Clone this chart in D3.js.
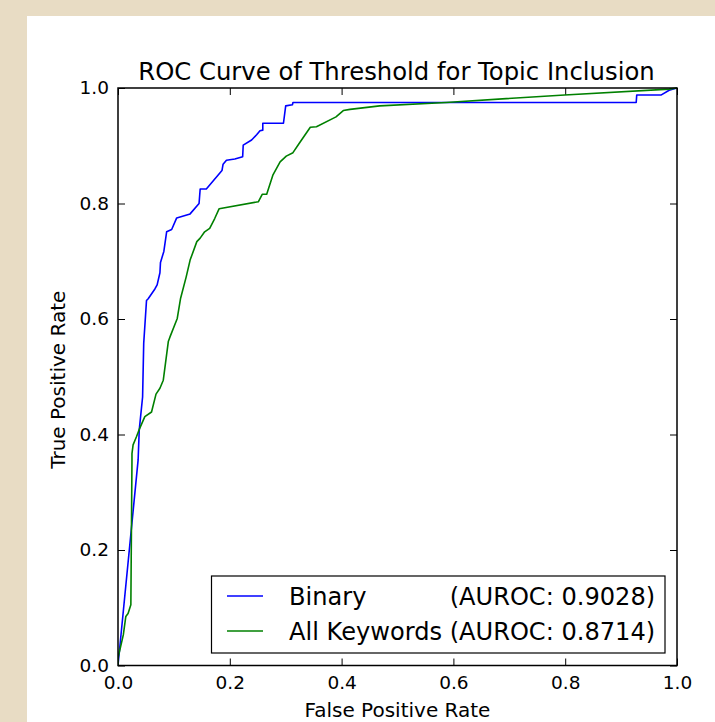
<!DOCTYPE html>
<html>
<head>
<meta charset="utf-8">
<script src="https://cdn.jsdelivr.net/npm/d3@7"></script>
<style>
  html, body { margin: 0; padding: 0; background: #e8dcc4; }
  svg { display: block; }
  text { font-family: "DejaVu Sans", sans-serif; fill: #000; }
</style>
</head>
<body>
<script>
// ---- data ----
const seriesNames = ["Binary", "All Keywords"];
const seriesAuroc = ["0.9028", "0.8714"];
const seriesColors = ["#0000ff", "#008000"];

const binaryFPR = [0, 0.036, 0.038, 0.044, 0.046, 0.051, 0.054, 0.066, 0.070, 0.075, 0.076, 0.082, 0.087, 0.096, 0.105, 0.129, 0.145, 0.147, 0.158, 0.186, 0.188, 0.194, 0.209, 0.223, 0.224, 0.239, 0.248, 0.254, 0.259, 0.259, 0.296, 0.300, 0.312, 0.313, 0.927, 0.928, 0.972, 0.986, 1];
const binaryTPR = [0, 0.356, 0.408, 0.465, 0.558, 0.632, 0.635, 0.652, 0.659, 0.680, 0.698, 0.717, 0.751, 0.755, 0.775, 0.782, 0.800, 0.825, 0.825, 0.857, 0.868, 0.875, 0.877, 0.881, 0.901, 0.910, 0.919, 0.926, 0.927, 0.939, 0.939, 0.969, 0.971, 0.975, 0.975, 0.988, 0.988, 0.996, 1];

const keywordsFPR = [0, 0.0005, 0.0095, 0.014, 0.018, 0.023, 0.025, 0.025, 0.027, 0.033, 0.039, 0.048, 0.060, 0.068, 0.075, 0.081, 0.090, 0.093, 0.106, 0.112, 0.122, 0.129, 0.141, 0.147, 0.155, 0.164, 0.173, 0.181, 0.251, 0.258, 0.266, 0.277, 0.290, 0.301, 0.313, 0.324, 0.344, 0.355, 0.390, 0.403, 0.415, 0.468, 0.587, 0.799, 0.986, 1];
const keywordsTPR = [0, 0.015, 0.053, 0.085, 0.090, 0.105, 0.356, 0.367, 0.382, 0.396, 0.411, 0.431, 0.439, 0.470, 0.480, 0.494, 0.561, 0.569, 0.601, 0.636, 0.673, 0.702, 0.734, 0.740, 0.751, 0.757, 0.774, 0.791, 0.803, 0.816, 0.816, 0.849, 0.872, 0.882, 0.888, 0.904, 0.932, 0.933, 0.950, 0.961, 0.963, 0.969, 0.975, 0.988, 0.998, 1];

const xTicks = [0, 0.2, 0.4, 0.6, 0.8, 1.0];
const yTicks = [0, 0.2, 0.4, 0.6, 0.8, 1.0];
const titleText = "ROC Curve of Threshold for Topic Inclusion";
const xLabel = "False Positive Rate";
const yLabel = "True Positive Rate";

// ---- layout ----
const W = 715, H = 722;
const L = 118, R = 677, T = 88, B = 665.5;

const svg = d3.select("body").append("svg").attr("width", W).attr("height", H);
svg.append("rect").attr("x", 0).attr("y", 0).attr("width", W).attr("height", H).attr("fill", "#e8dcc4");
svg.append("rect").attr("x", 27).attr("y", 16).attr("width", W - 27).attr("height", H - 16).attr("fill", "#ffffff");

const x = d3.scaleLinear().domain([0, 1]).range([L, R]);
const y = d3.scaleLinear().domain([0, 1]).range([B, T]);

const fmt = d3.format(".1f");

const gB = svg.append("g").attr("transform", `translate(0,${B})`)
  .call(d3.axisBottom(x).tickValues(xTicks).tickFormat(fmt).tickSize(-7).tickPadding(10));
const gT = svg.append("g").attr("transform", `translate(0,${T})`)
  .call(d3.axisTop(x).tickValues(xTicks).tickFormat("").tickSize(-7));
const gL = svg.append("g").attr("transform", `translate(${L},0)`)
  .call(d3.axisLeft(y).tickValues(yTicks).tickFormat(fmt).tickSize(-7).tickPadding(9));
const gR = svg.append("g").attr("transform", `translate(${R},0)`)
  .call(d3.axisRight(y).tickValues(yTicks).tickFormat("").tickSize(-7));

[gB, gT, gL, gR].forEach(g => {
  g.select(".domain").remove();
  g.selectAll(".tick line").attr("stroke", "#000").attr("stroke-width", 1);
  g.selectAll(".tick text").attr("font-family", "DejaVu Sans").attr("font-size", 18.5).attr("fill", "#000");
});

// curves
const line = d3.line().x(d => x(d[0])).y(d => y(d[1]));
const series = [
  binaryFPR.map((v, i) => [v, binaryTPR[i]]),
  keywordsFPR.map((v, i) => [v, keywordsTPR[i]])
];
svg.append("clipPath").attr("id", "plotclip").append("rect")
  .attr("x", L).attr("y", T - 2).attr("width", R - L).attr("height", B - T + 4);
svg.append("g").attr("clip-path", "url(#plotclip)")
  .selectAll("path.curve").data(series).join("path")
  .attr("class", "curve")
  .attr("d", line)
  .attr("fill", "none")
  .attr("stroke", (d, i) => seriesColors[i])
  .attr("stroke-width", 1.6)
  .attr("stroke-linejoin", "round");

// frame
svg.append("rect").attr("x", L).attr("y", T).attr("width", R - L).attr("height", B - T)
  .attr("fill", "none").attr("stroke", "#000").attr("stroke-width", 1.5);

// title & labels
svg.append("text").attr("x", (L + R) / 2 - 1).attr("y", 79.5).attr("text-anchor", "middle")
  .attr("font-size", 24.3).text(titleText);
svg.append("text").attr("x", (L + R) / 2).attr("y", 717).attr("text-anchor", "middle")
  .attr("font-size", 20).text(xLabel);
svg.append("text").attr("transform", `translate(65,${(T + B) / 2 + 3}) rotate(-90)`)
  .attr("text-anchor", "middle").attr("font-size", 20).text(yLabel);

// legend
const lg = svg.append("g");
lg.append("rect").attr("x", 211.5).attr("y", 576).attr("width", 453.5).attr("height", 77)
  .attr("fill", "#fff").attr("stroke", "#000").attr("stroke-width", 1.2);
const rows = [596, 631];
const legFont = 24.1;
const textX = 289;
const probe = lg.append("text").attr("font-size", legFont);
let maxW = 0;
seriesNames.forEach((name, i) => {
  probe.text(`${name} (AUROC: ${seriesAuroc[i]})`);
  maxW = Math.max(maxW, probe.node().getComputedTextLength());
});
probe.remove();
seriesNames.forEach((name, i) => {
  lg.append("line").attr("x1", 227).attr("x2", 263).attr("y1", rows[i]).attr("y2", rows[i])
    .attr("stroke", seriesColors[i]).attr("stroke-width", 1.6);
  lg.append("text").attr("x", textX).attr("y", rows[i] + 9).attr("font-size", legFont).text(name);
  lg.append("text").attr("x", textX + maxW).attr("y", rows[i] + 9).attr("text-anchor", "end")
    .attr("font-size", legFont).text(`(AUROC: ${seriesAuroc[i]})`);
});
</script>
</body>
</html>
